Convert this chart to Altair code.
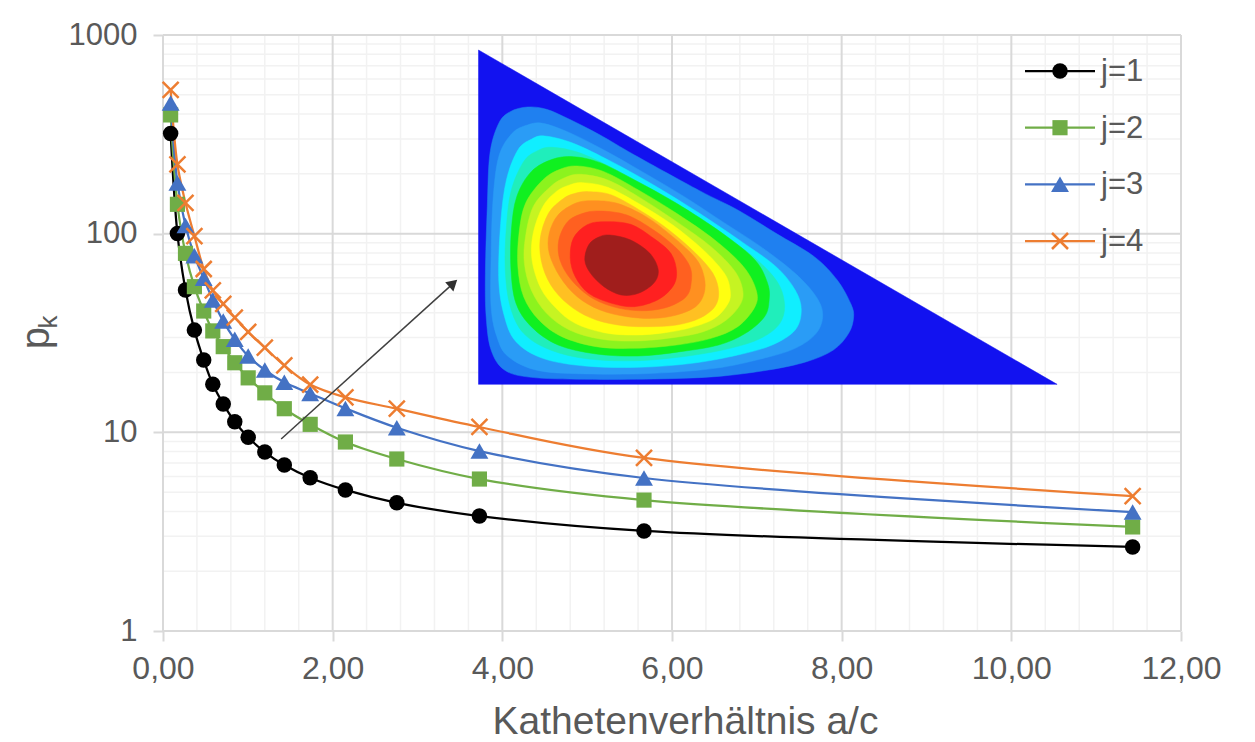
import altair as alt
import pandas as pd

FONT = "Liberation Sans"
TEXT = "#595959"

ratio = [0.09, 0.17, 0.265, 0.37, 0.48, 0.587, 0.71, 0.846, 1.004, 1.2, 1.43, 1.735, 2.15, 2.756, 3.73, 5.67, 11.43]
j1 = [319, 100.2, 52.0, 32.7, 23.1, 17.45, 13.9, 11.3, 9.44, 7.96, 6.85, 5.91, 5.13, 4.42, 3.79, 3.19, 2.65]
j2 = [396, 140.5, 79.6, 54.1, 40.8, 32.4, 27.0, 22.4, 18.8, 15.8, 13.15, 10.97, 8.94, 7.34, 5.82, 4.56, 3.34]
j3 = [455, 180, 110, 77.5, 59.6, 46.4, 36.3, 29.4, 24.2, 20.6, 17.85, 15.7, 13.2, 10.55, 8.05, 5.89, 3.97]
j4 = [529, 223, 143, 97.3, 66.4, 51.8, 44.3, 37.8, 32.0, 26.7, 21.7, 17.4, 15.0, 13.15, 10.64, 7.43, 4.78]
series_names = ["j=1", "j=2", "j=3", "j=4"]
series_colors = ["#000000", "#70AD47", "#4472C4", "#ED7D31"]
series_values = [j1, j2, j3, j4]

x_major = [0, 2, 4, 6, 8, 10, 12]
x_minor = [v * 0.4 for v in range(1, 30) if v % 5 != 0]
y_major = [1, 10, 100, 1000]
y_minor = [m * d for d in (1, 10, 100) for m in range(2, 10)]

# Inset: a triangle with contour bands, in the inset's own image units
triangle = [(22, 30), (1535, 1033), (22, 1033)]
band_colors = ["#1F80F0", "#2A9CF6", "#10EEFF", "#20EEBB", "#10F020", "#8CF31E", "#C6F422",
               "#FFFF10", "#FFC022", "#FF9020", "#FF6020", "#FF2020", "#A01E1C"]
band_shapes = [
    [(150,201),(200,208),(260,238),(340,285),(430,345),(600,452),(700,510),(800,580),(900,650),(960,720),(995,790),(1003,830),(990,880),(950,930),(880,965),(780,990),(640,1010),(480,1017),(300,1018),(160,1012),(90,990),(55,930),(42,830),(40,700),(45,500),(52,340),(75,250),(105,215)],
    [(190,250),(260,278),(350,330),(450,395),(560,470),(660,545),(760,620),(850,700),(905,770),(922,825),(905,880),(850,925),(760,957),(640,985),(480,1000),(320,1002),(180,992),(100,950),(70,890),(55,800),(55,650),(60,480),(75,350),(110,280),(150,255)],
    [(195,288),(270,310),(370,365),(480,435),(600,520),(710,605),(800,680),(850,750),(866,810),(850,870),(790,915),(700,945),(580,970),(440,982),(300,978),(190,955),(120,905),(90,830),(75,720),(80,550),(95,420),(125,330),(160,298)],
    [(215,322),(290,340),(390,395),(500,465),(620,555),(730,640),(800,720),(822,790),(810,850),(760,895),(680,925),(570,948),(440,962),(310,957),(210,930),(140,880),(105,800),(92,690),(95,560),(108,450),(140,365),(175,333)],
    [(270,350),(340,368),(430,420),(540,490),(660,580),(745,660),(778,730),(782,780),(770,830),(720,880),(650,915),(550,935),(440,948),(330,942),(230,915),(160,860),(120,790),(107,690),(108,570),(122,470),(160,395),(215,358)],
    [(280,378),(350,395),(440,450),(540,520),(640,600),(715,680),(748,750),(745,800),(700,860),(630,895),(540,915),(430,925),(330,920),(240,890),(180,840),(140,770),(125,680),(128,580),(145,490),(190,420),(235,388)],
    [(290,403),(360,420),(440,470),(540,545),(630,620),(690,690),(712,745),(708,790),(670,840),(610,875),(530,893),(430,903),(340,897),(260,870),(200,820),(160,750),(142,670),(145,590),(165,500),(210,440),(250,412)],
    [(295,428),(360,442),(440,490),(530,555),(610,630),(665,700),(680,750),(675,790),(640,835),(580,862),(510,878),(430,885),(350,878),(275,850),(225,805),(185,745),(162,660),(165,580),(190,500),(225,455),(260,435)],
    [(310,455),(370,465),(450,515),(520,570),(590,640),(635,700),(650,755),(640,800),(600,835),(540,855),(470,860),(400,857),(330,840),(270,805),(220,750),(190,680),(183,600),(205,520),(245,475),(275,460)],
    [(320,482),(385,490),(460,530),(530,590),(590,655),(612,710),(612,760),(590,800),(540,825),(480,835),(410,830),(340,810),(280,770),(235,710),(207,640),(207,580),(230,525),(275,490)],
    [(340,513),(410,525),(480,570),(540,625),(575,680),(578,730),(565,770),(520,800),(460,812),(390,805),(320,775),(265,720),(235,660),(232,600),(255,545),(295,520)],
    [(350,545),(420,553),(480,595),(525,640),(540,695),(530,740),(490,780),(430,800),(370,790),(310,760),(275,710),(262,655),(270,595),(305,555)],
    [(365,585),(420,600),(470,640),(492,690),(480,730),(440,760),(395,765),(350,740),(315,700),(300,660),(310,615),(335,592)],
]
arrow_shaft = [(-494, 1197), (-44, 730)]
arrow_head = [(-44, 730)]

X_SCALE = alt.Scale(type="linear", domain=[0, 12], nice=False, zero=False)
Y_SCALE = alt.Scale(type="log", domain=[1, 1000], nice=False)
IX_SCALE = alt.Scale(domain=[-803, 1859], nice=False, zero=False)
IY_SCALE = alt.Scale(domain=[1773, -15], nice=False, zero=False)

X_AXIS = alt.Axis(
    values=x_major, labelExpr="replace(format(datum.value, '.2f'), '.', ',')",
    grid=False, domain=False, tickColor="#D9D9D9", tickWidth=2, tickSize=10,
    labelFont=FONT, labelFontSize=32, labelColor=TEXT, labelPadding=12, labelFlush=False,
    title="Kathetenverhältnis a/c", titleX=522,
    titleFont=FONT, titleFontSize=39, titleColor=TEXT, titleFontWeight="normal", titlePadding=18)
Y_AXIS = alt.Axis(
    values=y_major, format="d", grid=False, domain=False, tickColor="#D9D9D9", tickWidth=2, tickSize=10,
    labelFont=FONT, labelFontSize=31, labelColor=TEXT, labelPadding=16, title=None)


def xrules(vals, color, width):
    return alt.Chart(pd.DataFrame({"v": vals})).mark_rule(color=color, strokeWidth=width).encode(
        x=alt.X("v:Q", scale=X_SCALE, axis=X_AXIS))


def yrules(vals, color, width):
    return alt.Chart(pd.DataFrame({"v": vals})).mark_rule(color=color, strokeWidth=width).encode(
        y=alt.Y("v:Q", scale=Y_SCALE, axis=Y_AXIS))


main = [xrules(x_minor, "#F2F2F2", 1.5), yrules(y_minor, "#F2F2F2", 1.5),
        xrules(x_major, "#D9D9D9", 2), yrules(y_major, "#D9D9D9", 2)]


def marker(i):
    color = series_colors[i]
    if i == 0:
        return dict(shape="circle", size=240, filled=True, color=color, opacity=1)
    if i == 1:
        return dict(shape="square", size=230, filled=True, color=color, opacity=1)
    if i == 2:
        return dict(shape="triangle-up", size=320, filled=True, color=color, opacity=1)
    return dict(shape="M-1,-1L1,1M-1,1L1,-1", size=256, filled=False, color=color, strokeWidth=2.5, opacity=1)


for i, vals in enumerate(series_values):
    df = pd.DataFrame({"x": ratio, "y": vals})
    base = alt.Chart(df).encode(x=alt.X("x:Q", scale=X_SCALE, axis=X_AXIS), y=alt.Y("y:Q", scale=Y_SCALE, axis=Y_AXIS))
    main.append(base.mark_line(color=series_colors[i], strokeWidth=2.25, interpolate="catmull-rom"))
for i, vals in enumerate(series_values):
    df = pd.DataFrame({"x": ratio, "y": vals})
    base = alt.Chart(df).encode(x=alt.X("x:Q", scale=X_SCALE, axis=X_AXIS), y=alt.Y("y:Q", scale=Y_SCALE, axis=Y_AXIS))
    main.append(base.mark_point(**marker(i)))


def polygon(points, color, interp):
    df = pd.DataFrame({"x": [p[0] for p in points], "y": [p[1] for p in points], "i": range(len(points))})
    return alt.Chart(df).mark_line(fill=color, stroke=color, strokeWidth=0.5, interpolate=interp).encode(
        x=alt.X("x:Q", scale=IX_SCALE, axis=None),
        y=alt.Y("y:Q", scale=IY_SCALE, axis=None),
        order=alt.Order("i:Q"))


inset = [polygon(triangle, "#1212F0", "linear-closed")]
for pts, col in zip(band_shapes, band_colors):
    inset.append(polygon(pts, col, "cardinal-closed"))

shaft = pd.DataFrame({"x": [p[0] for p in arrow_shaft], "y": [p[1] for p in arrow_shaft], "i": [0, 1]})
inset.append(alt.Chart(shaft).mark_line(color="#404040", strokeWidth=1.5).encode(
    x=alt.X("x:Q", scale=IX_SCALE, axis=None), y=alt.Y("y:Q", scale=IY_SCALE, axis=None), order=alt.Order("i:Q")))
head = pd.DataFrame({"x": [p[0] for p in arrow_head], "y": [p[1] for p in arrow_head]})
inset.append(alt.Chart(head).mark_point(shape="triangle-up", size=150, angle=48, filled=True, color="#303030", opacity=1).encode(
    x=alt.X("x:Q", scale=IX_SCALE, axis=None), y=alt.Y("y:Q", scale=IY_SCALE, axis=None)))

# legend and rotated y title
legend = []
legend_rows = [36, 92.7, 149.3, 206]
for i, name in enumerate(series_names):
    row = legend_rows[i]
    one = pd.DataFrame({"t": [name]})
    legend.append(alt.Chart(one).mark_rule(color=series_colors[i], strokeWidth=2.25).encode(
        x=alt.value(862), x2=alt.value(932), y=alt.value(row)))
    legend.append(alt.Chart(one).mark_point(**marker(i)).encode(x=alt.value(897), y=alt.value(row)))
    legend.append(alt.Chart(one).mark_text(font=FONT, fontSize=31, color=TEXT, align="left", baseline="middle").encode(
        x=alt.value(938), y=alt.value(row + 1), text="t:N"))

legend.append(alt.Chart(pd.DataFrame({"t": ["p"]})).mark_text(font=FONT, fontSize=40, color=TEXT, angle=270, align="center", baseline="alphabetic").encode(
    x=alt.value(-114.5), y=alt.value(303), text="t:N"))
legend.append(alt.Chart(pd.DataFrame({"t": ["k"]})).mark_text(font=FONT, fontSize=26, color=TEXT, angle=270, align="center", baseline="alphabetic").encode(
    x=alt.value(-106), y=alt.value(287), text="t:N"))

chart = alt.layer(alt.layer(*main), alt.layer(*inset), alt.layer(*legend)).resolve_scale(
    x="independent", y="independent"
).properties(
    width=1018, height=596,
    autosize=alt.AutoSizeParams(type="none"),
    padding={"left": 155, "top": 27, "right": 66, "bottom": 106},
    background="white",
).configure_view(stroke=None)

chart.save("out.html", embed_options={"renderer": "svg", "actions": False})
